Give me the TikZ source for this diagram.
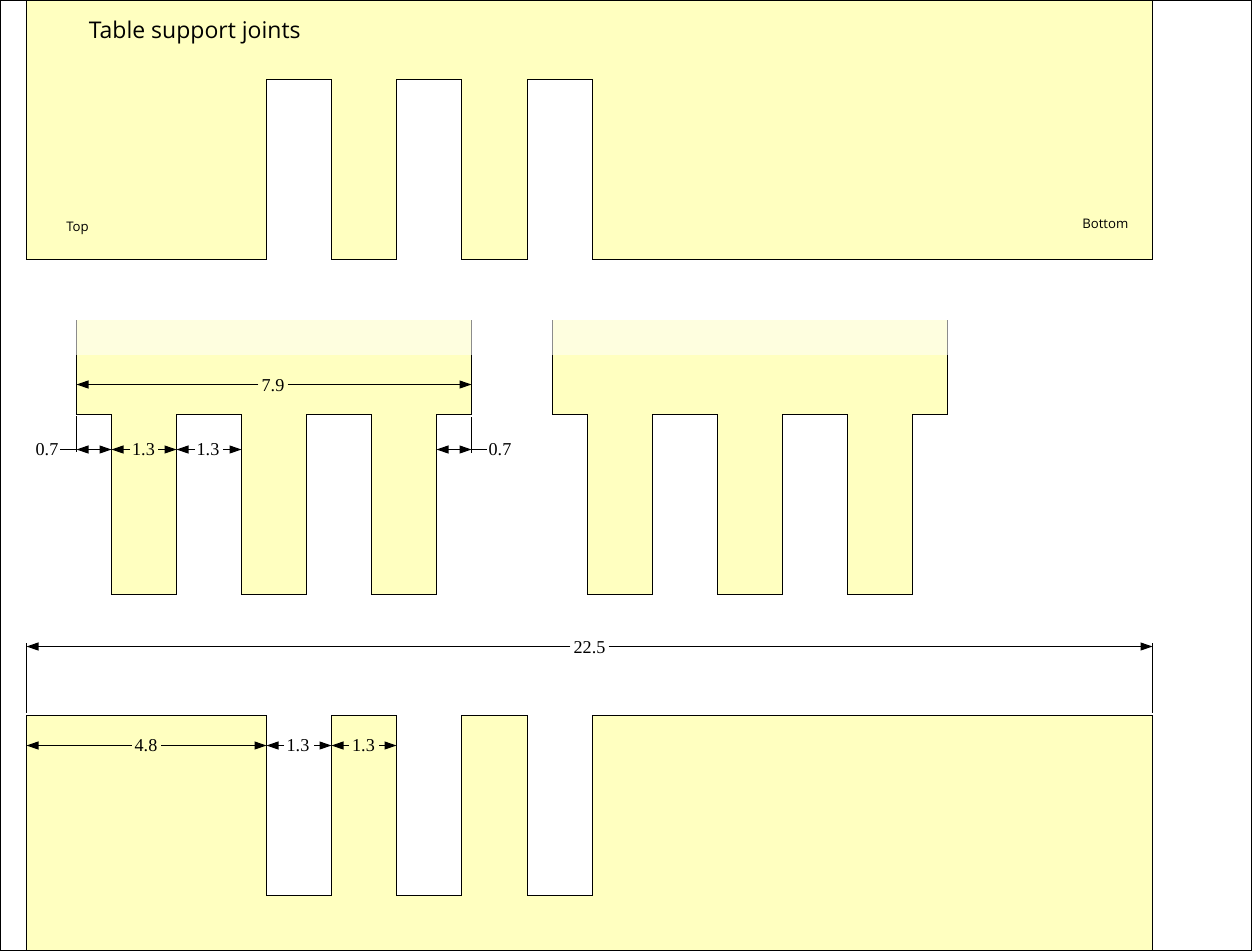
\documentclass[tikz,border=0pt]{standalone}
\usepackage{fontspec}
\usetikzlibrary{arrows.meta}
\setmainfont{Liberation Serif}
\newfontfamily\uifont{Open Sans}
\definecolor{plate}{HTML}{FFFFC0}
\definecolor{fade}{HTML}{FEFEDF}
\definecolor{fadeedge}{HTML}{8C8C8C}
\tikzset{
  x=0.75pt,y=-0.75pt,
  outline/.style={draw=black,line width=0.8pt,fill=plate},
  edge/.style={draw=black,line width=0.8pt},
  fadedge/.style={draw=fadeedge,line width=0.8pt},
  dimlabel/.style={inner sep=0pt,font=\fontsize{13.6pt}{15pt}\selectfont},
  dimto/.style={draw=black,line width=0.8pt,-{Triangle[length=9pt,width=6pt]}},
  dimplain/.style={draw=black,line width=0.8pt},
  extline/.style={draw=black,line width=0.8pt},
  titletext/.style={inner sep=0pt,anchor=base west,font=\uifont\fontsize{17.25pt}{20pt}\selectfont},
  smalltext/.style={inner sep=0pt,anchor=base west,font=\uifont\fontsize{9.9pt}{11pt}\selectfont},
}
\begin{document}
\begin{tikzpicture}
\useasboundingbox (0,0) rectangle (1252,951);
% frame
\draw[edge] (0.5,0) -- (0.5,951);
\draw[edge] (1251.5,0) -- (1251.5,951);
% top plate
\draw[outline] (26.5,0.5) -- (1152.5,0.5) -- (1152.5,259.5) -- (592.5,259.5) -- (592.5,79.5) -- (527.5,79.5) -- (527.5,259.5) -- (461.5,259.5) -- (461.5,79.5) -- (396.5,79.5) -- (396.5,259.5) -- (331.5,259.5) -- (331.5,79.5) -- (266.5,79.5) -- (266.5,259.5) -- (26.5,259.5) -- cycle;
\draw[edge] (0,0.5) -- (1252,0.5);
\node[titletext] (title) at (88.5,38.5) {Table support joints};
\node[smalltext] (top) at (66,231) {Top};
\node[smalltext] (bottom) at (1082,228) {Bottom};
% left comb
\fill[fade] (76.5,320) rectangle (471.5,355);
\draw[fadedge] (76.5,320) -- (76.5,355);
\draw[fadedge] (471.5,320) -- (471.5,355);
\fill[plate] (76.5,355) -- (471.5,355) -- (471.5,414.5) -- (436.5,414.5) -- (436.5,594.5) -- (371.5,594.5) -- (371.5,414.5) -- (306.5,414.5) -- (306.5,594.5) -- (241.5,594.5) -- (241.5,414.5) -- (176.5,414.5) -- (176.5,594.5) -- (111.5,594.5) -- (111.5,414.5) -- (76.5,414.5) -- cycle;
\draw[edge] (76.5,355) -- (76.5,414.5) -- (111.5,414.5) -- (111.5,594.5) -- (176.5,594.5) -- (176.5,414.5) -- (241.5,414.5) -- (241.5,594.5) -- (306.5,594.5) -- (306.5,414.5) -- (371.5,414.5) -- (371.5,594.5) -- (436.5,594.5) -- (436.5,414.5) -- (471.5,414.5) -- (471.5,355);
% right comb
\fill[fade] (552.5,320) rectangle (947.5,355);
\draw[fadedge] (552.5,320) -- (552.5,355);
\draw[fadedge] (947.5,320) -- (947.5,355);
\fill[plate] (552.5,355) -- (947.5,355) -- (947.5,414.5) -- (912.5,414.5) -- (912.5,594.5) -- (847.5,594.5) -- (847.5,414.5) -- (782.5,414.5) -- (782.5,594.5) -- (717.5,594.5) -- (717.5,414.5) -- (652.5,414.5) -- (652.5,594.5) -- (587.5,594.5) -- (587.5,414.5) -- (552.5,414.5) -- cycle;
\draw[edge] (552.5,355) -- (552.5,414.5) -- (587.5,414.5) -- (587.5,594.5) -- (652.5,594.5) -- (652.5,414.5) -- (717.5,414.5) -- (717.5,594.5) -- (782.5,594.5) -- (782.5,414.5) -- (847.5,414.5) -- (847.5,594.5) -- (912.5,594.5) -- (912.5,414.5) -- (947.5,414.5) -- (947.5,355);
% bottom plate
\draw[outline] (26.5,950.5) -- (26.5,715.5) -- (266.5,715.5) -- (266.5,895.5) -- (331.5,895.5) -- (331.5,715.5) -- (396.5,715.5) -- (396.5,895.5) -- (461.5,895.5) -- (461.5,715.5) -- (527.5,715.5) -- (527.5,895.5) -- (592.5,895.5) -- (592.5,715.5) -- (1152.5,715.5) -- (1152.5,950.5) -- cycle;
\draw[edge] (0,950.5) -- (1252,950.5);
% extension lines
\coordinate (xa1) at (76.5,416);
\coordinate (xa2) at (76.5,452);
\coordinate (xb1) at (471.5,417);
\coordinate (xb2) at (471.5,453);
\draw[extline] (xa1) -- (xa2);
\draw[extline] (xb1) -- (xb2);
\coordinate (xc1) at (26.5,643);
\coordinate (xc2) at (26.5,712.5);
\coordinate (xd1) at (1152.5,643);
\coordinate (xd2) at (1152.5,712.5);
\draw[extline] (xc1) -- (xc2);
\draw[extline] (xd1) -- (xd2);
% 7.9
\node[dimlabel] (d79) at (273,385.5) {7.9};
\coordinate (d79l) at (76.5,384.5);
\coordinate (d79r) at (471.5,384.5);
\draw[dimto] (d79.west |- d79l) ++(-3,0) -- (d79l);
\draw[dimto] (d79.east |- d79r) ++(3,0) -- (d79r);
% row of small dimensions
\coordinate (r0) at (76.5,449.5);
\coordinate (r1) at (111.5,449.5);
\coordinate (r2) at (176.5,449.5);
\coordinate (r3) at (241.5,449.5);
\coordinate (r4) at (436.5,449.5);
\coordinate (r5) at (471.5,449.5);
\coordinate (r01) at (94,449.5);
\coordinate (r45) at (454,449.5);
\node[dimlabel] (l07) at (47,450) {0.7};
\node[dimlabel] (r07) at (500,450) {0.7};
\node[dimlabel] (a13) at (143.5,450) {1.3};
\node[dimlabel] (b13) at (208,450) {1.3};
\draw[dimplain] (60,449.5) -- (r0);
\draw[dimto] (r01) -- (r0);
\draw[dimto] (r01) -- (r1);
\draw[dimto] (130,449.5) -- (r1);
\draw[dimto] (158,449.5) -- (r2);
\draw[dimto] (195,449.5) -- (r2);
\draw[dimto] (223,449.5) -- (r3);
\draw[dimto] (r45) -- (r4);
\draw[dimto] (r45) -- (r5);
\draw[dimplain] (r5) -- (487,449.5);
% 22.5
\node[dimlabel] (d225) at (589.5,647.5) {22.5};
\coordinate (d225l) at (26.5,646.5);
\coordinate (d225r) at (1152.5,646.5);
\draw[dimto] (d225.west |- d225l) ++(-3,0) -- (d225l);
\draw[dimto] (d225.east |- d225r) ++(3,0) -- (d225r);
% lower dimensions
\coordinate (s0) at (26.5,745.5);
\coordinate (s1) at (266.5,745.5);
\coordinate (s2) at (331.5,745.5);
\coordinate (s3) at (396.5,745.5);
\node[dimlabel] (d48) at (146,746) {4.8};
\node[dimlabel] (c13) at (298,746) {1.3};
\node[dimlabel] (e13) at (363.5,746) {1.3};
\draw[dimto] (131.5,745.5) -- (s0);
\draw[dimto] (161,745.5) -- (s1);
\draw[dimto] (284,745.5) -- (s1);
\draw[dimto] (314,745.5) -- (s2);
\draw[dimto] (349,745.5) -- (s2);
\draw[dimto] (379,745.5) -- (s3);
\end{tikzpicture}
\end{document}
